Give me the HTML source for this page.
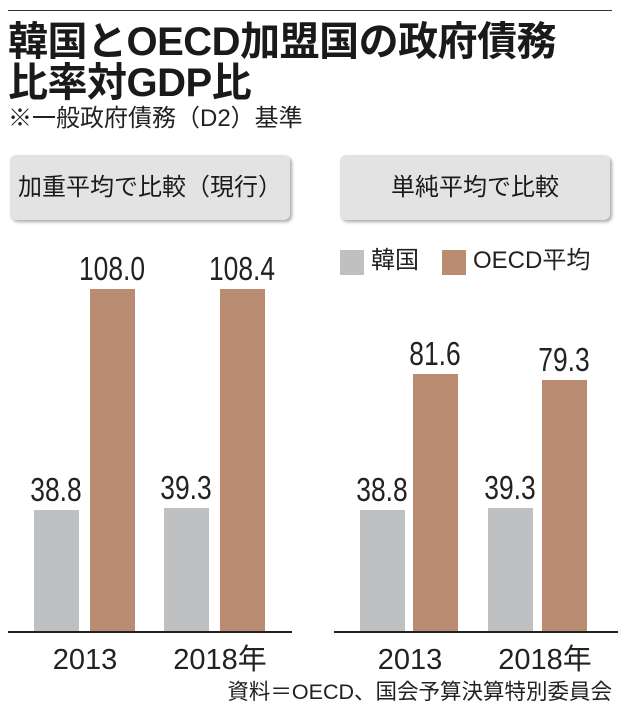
<!DOCTYPE html>
<html><head><meta charset="utf-8"><style>
body{margin:0;width:620px;height:714px;background:#fff;position:relative;overflow:hidden;font-family:"Liberation Sans","Noto Sans CJK JP",sans-serif;color:#222}
.a{position:absolute;white-space:nowrap}
.t{font-weight:bold;font-size:40px;line-height:42px;left:8px;letter-spacing:-0.5px;color:#1a1a1a}
.btn{position:absolute;top:155px;height:65px;background:#e3e3e4;border-radius:6px;box-shadow:2px 2px 3px #aaa;font-size:24px;line-height:65px;text-align:center;color:#1a1a1a}
.g{position:absolute;background:#bfc0c2;width:45px}
.b{position:absolute;background:#b98c72;width:45px}
.v{position:absolute;font-size:33px;width:100px;text-align:center;transform:scaleX(0.8);line-height:32px}
.y{position:absolute;font-size:29px;line-height:30px;text-align:center;width:140px}
.base{position:absolute;height:1.5px;background:#222;top:631px}
</style></head><body>
<div style="position:absolute;left:8px;top:10px;width:604px;height:1px;background:#333"></div>
<div class="a t" style="top:21px">韓国とOECD加盟国の政府債務</div>
<div class="a t" style="top:62px">比率対GDP比</div>
<div class="a" style="left:8px;top:104px;font-size:24px;line-height:30px">※一般政府債務（D2）基準</div>
<div class="btn" style="left:10px;width:280px">加重平均で比較（現行）</div>
<div class="btn" style="left:340px;width:270px">単純平均で比較</div>
<div class="g" style="left:340px;top:250px;width:24px;height:25px"></div>
<div class="a" style="left:371px;top:247px;font-size:24px;line-height:28px">韓国</div>
<div class="b" style="left:442px;top:250px;width:24px;height:25px"></div>
<div class="a" style="left:473px;top:247px;font-size:24px;line-height:28px">OECD平均</div>

<div class="g" style="left:34px;top:510px;height:122px"></div>
<div class="b" style="left:90px;top:289px;height:343px"></div>
<div class="g" style="left:164px;top:508px;height:124px"></div>
<div class="b" style="left:220px;top:289px;height:343px"></div>
<div class="g" style="left:360px;top:510px;height:122px"></div>
<div class="b" style="left:413px;top:374px;height:258px"></div>
<div class="g" style="left:488px;top:508px;height:124px"></div>
<div class="b" style="left:542px;top:380px;height:252px"></div>

<div class="v" style="left:6px;top:474px">38.8</div>
<div class="v" style="left:62px;top:253px">108.0</div>
<div class="v" style="left:136px;top:472px">39.3</div>
<div class="v" style="left:192px;top:253px">108.4</div>
<div class="v" style="left:332px;top:474px">38.8</div>
<div class="v" style="left:385px;top:338px">81.6</div>
<div class="v" style="left:460px;top:472px">39.3</div>
<div class="v" style="left:514px;top:344px">79.3</div>

<div class="base" style="left:8px;width:284px"></div>
<div class="base" style="left:334px;width:284px"></div>
<div class="y" style="left:15px;top:645px">2013</div>
<div class="y" style="left:150px;top:645px">2018年</div>
<div class="y" style="left:340px;top:645px">2013</div>
<div class="y" style="left:475px;top:645px">2018年</div>
<div class="a" style="right:8px;top:679px;font-size:21.5px;line-height:26px">資料＝OECD、国会予算決算特別委員会</div>
</body></html>
